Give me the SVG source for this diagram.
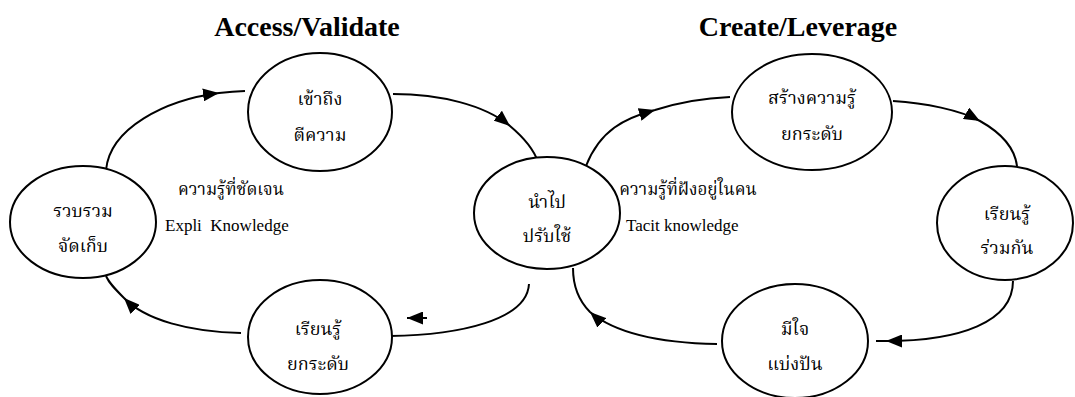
<svg xmlns="http://www.w3.org/2000/svg" width="1075" height="397" viewBox="0 0 1075 397">
<style>
.node ellipse{fill:#fff;stroke:#000;stroke-width:2}
.th{font-family:"Liberation Serif","Noto Serif Thai","Noto Sans Thai",serif;font-size:18px;text-anchor:middle;fill:#000}
.lbl{font-size:17px}
.en{font-family:"Liberation Serif",serif;font-size:17px;fill:#000;white-space:pre}
.title{font-family:"Liberation Serif",serif;font-size:28px;font-weight:bold;text-anchor:middle;fill:#000}
.conn path{fill:none;stroke:#000;stroke-width:2}
</style>
<defs>
<marker id="ah" viewBox="0 0 16 13" refX="16" refY="6.5" markerWidth="16" markerHeight="13" markerUnits="userSpaceOnUse" orient="auto">
<path d="M0,0 L16,6.5 L0,13 Z" fill="#000"/>
</marker>
</defs>
<rect width="1075" height="397" fill="#fff"/>
<text class="title" x="307" y="36">Access/Validate</text>
<text class="title" x="798" y="36">Create/Leverage</text>
<g class="conn">
<path d="M106,170 C110,128 165,100 219,93 C228,92 237,91.3 245,91" marker-mid="url(#ah)"/>
<path d="M393,94 C440,94 485,105 510,126 C525,138.6 534,150 538,162" marker-mid="url(#ah)"/>
<path d="M529,284 C527,320 460,335 390,336"/>
<path d="M427,318 L407,318" marker-end="url(#ah)"/>
<path d="M241,333 C190,332 145,320 124,298 C115,289 109,283 106,276" marker-mid="url(#ah)"/>
<path d="M586,166 C600,130 625,118 655,110 C680,102 705,98 730,97" marker-mid="url(#ah)"/>
<path d="M893,101 C925,103 960,110 980,121 C1005,135 1015,150 1017,166" marker-mid="url(#ah)"/>
<path d="M1013,281 C1013,322 960,341 886,341 L876,341" marker-mid="url(#ah)"/>
<path d="M717,344 C660,343 615,333 590,312 C578,300 573,285 573,268" marker-mid="url(#ah)"/>
</g>
<g id="n-access" class="node"><ellipse cx="320" cy="112" rx="72" ry="59"/><text class="th" x="320" y="105">เข้าถึง</text><text class="th" x="320" y="141">ตีความ</text></g>
<g id="n-collect" class="node"><ellipse cx="83" cy="222" rx="73" ry="56"/><text class="th" x="83" y="217">รวบรวม</text><text class="th" x="83" y="252">จัดเก็บ</text></g>
<g id="n-learn1" class="node"><ellipse cx="320" cy="337" rx="72" ry="57"/><text class="th" x="318" y="335">เรียนรู้</text><text class="th" x="318" y="370">ยกระดับ</text></g>
<g id="n-apply" class="node"><ellipse cx="547" cy="213" rx="73" ry="56"/><text class="th" x="547" y="208">นำไป</text><text class="th" x="547" y="242">ปรับใช้</text></g>
<g id="n-create" class="node"><ellipse cx="812" cy="112" rx="80" ry="58"/><text class="th" x="812" y="104">สร้างความรู้</text><text class="th" x="812" y="140">ยกระดับ</text></g>
<g id="n-learn2" class="node"><ellipse cx="1005" cy="223" rx="68" ry="57"/><text class="th" x="1007" y="220">เรียนรู้</text><text class="th" x="1007" y="254">ร่วมกัน</text></g>
<g id="n-share" class="node"><ellipse cx="795" cy="341" rx="73" ry="57"/><text class="th" x="795" y="335">มีใจ</text><text class="th" x="795" y="370">แบ่งปัน</text></g>
<g id="labels">
<text class="th lbl" x="231" y="195">ความรู้ที่ชัดเจน</text>
<text class="en" x="165" y="231">Expli  Knowledge</text>
<text class="th lbl" x="688" y="195">ความรู้ที่ฝังอยู่ในคน</text>
<text class="en" x="626" y="231">Tacit knowledge</text>
</g>
</svg>
